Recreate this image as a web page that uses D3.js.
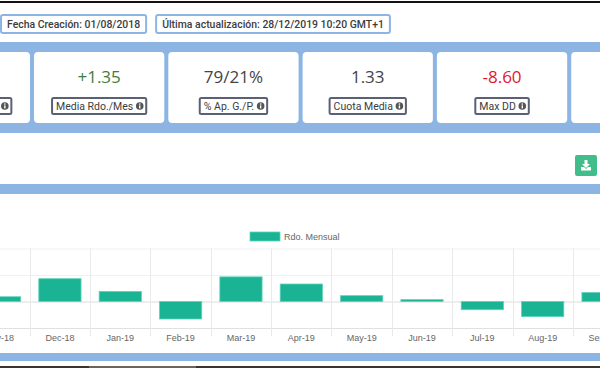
<!DOCTYPE html>
<html>
<head>
<meta charset="utf-8">
<script src="https://cdn.jsdelivr.net/npm/d3@7/dist/d3.min.js"></script>
<style>
	html, body { margin: 0; padding: 0; background: #fff; overflow: hidden; }
	svg { display: block; }
	.ui-text { font-family: Roboto, sans-serif; font-weight: 500; fill: #3c3c3c; }
	.axis text, .legend-label { font-family: 'Liberation Sans', Arial, sans-serif; font-size: 9px; fill: #666; }
</style>
</head>
<body>
<div id="chart"></div>
<script>
	// header badges
	const infoBadges = ['Fecha Creación: 01/08/2018', 'Última actualización: 28/12/2019 10:20 GMT+1'];

	// stat cards, first and last are cut off by the window
	const cardLabels = ['', 'Media Rdo./Mes', '% Ap. G./P.', 'Cuota Media', 'Max DD', ''];
	const cardValues = ['', '+1.35', '79/21%', '1.33', '-8.60', ''];
	const cardTones = ['neutral', 'up', 'neutral', 'neutral', 'down', 'neutral'];

	// monthly result chart
	const months = ['Nov-18', 'Dec-18', 'Jan-19', 'Feb-19', 'Mar-19', 'Apr-19', 'May-19', 'Jun-19', 'Jul-19', 'Aug-19', 'Sep-19'];
	const monthlyResult = [0.9, 4.3, 1.9, -3.3, 4.65, 3.3, 1.1, 0.35, -1.55, -2.85, 1.7];
	const yTicks = [-5, 0, 5, 10];
	const seriesName = 'Rdo. Mensual';

	const blue = '#8db5e3';
	const toneColors = { neutral: '#444', up: '#3f7d3f', down: '#e3182d' };

	const svg = d3.select('#chart').append('svg')
		.attr('width', 600)
		.attr('height', 368);

	// page frame
	svg.append('rect').attr('y', 1).attr('width', 600).attr('height', 2).style('fill', '#111');
	svg.append('rect').attr('y', 42).attr('width', 600).attr('height', 91).style('fill', blue);
	svg.append('rect').attr('y', 184).attr('width', 600).attr('height', 10).style('fill', blue);
	svg.append('rect').attr('y', 353).attr('width', 600).attr('height', 8).style('fill', blue);
	svg.append('rect').attr('y', 366).attr('width', 600).attr('height', 2).style('fill', '#3a342a');
	svg.append('rect').attr('x', 89).attr('y', 366).attr('width', 107).attr('height', 2).style('fill', '#6b655a');

	const drawInfoIcon = (g, cx, cy) => {
		g.append('circle').attr('cx', cx).attr('cy', cy).attr('r', 3.8).style('fill', '#555');
		g.append('rect').attr('x', cx - 0.7).attr('y', cy - 2.6).attr('width', 1.4).attr('height', 1.3).style('fill', '#fff');
		g.append('rect').attr('x', cx - 0.7).attr('y', cy - 0.6).attr('width', 1.4).attr('height', 3).style('fill', '#fff');
	};

	// header badges, sized from their text
	let badgeX = 0;
	infoBadges.forEach((label) => {
		const g = svg.append('g');
		const box = g.append('rect')
			.attr('y', 15)
			.attr('height', 18)
			.attr('rx', 2)
			.style('fill', '#fff')
			.style('stroke', blue)
			.style('stroke-width', 2);
		const text = g.append('text')
			.attr('class', 'ui-text')
			.attr('x', badgeX + 7)
			.attr('y', 28)
			.style('font-size', '10.45px')
			.text(label);
		const w = text.node().getComputedTextLength();
		box.attr('x', badgeX + 1).attr('width', w + 12);
		badgeX += w + 22;
	});

	// stat cards
	const cardX = d3.scaleBand()
		.domain(d3.range(cardLabels.length))
		.range([-102.3, 703.5])
		.paddingInner(0.03)
		.paddingOuter(0.015);

	const cards = svg.selectAll('.card')
		.data(cardLabels)
		.enter().append('g')
			.attr('class', 'card')
			.attr('transform', (d, i) => `translate(${cardX(i)}, 52)`);
	cards.append('rect')
		.attr('width', cardX.bandwidth())
		.attr('height', 71)
		.attr('rx', 4)
		.style('fill', '#fff');
	cards.append('text')
		.attr('class', 'ui-text')
		.attr('x', cardX.bandwidth() / 2)
		.attr('y', 30.5)
		.style('font-family', '"Open Sans", sans-serif')
		.style('font-weight', 400)
		.style('font-size', '17px')
		.style('text-anchor', 'middle')
		.style('fill', (d, i) => toneColors[cardTones[i]])
		.text((d, i) => cardValues[i]);

	cards.each(function (label, i) {
		if (i === cardLabels.length - 1) return;
		const g = d3.select(this);
		const box = g.append('rect')
			.attr('y', 46)
			.attr('height', 16)
			.attr('rx', 1.5)
			.style('fill', '#fff')
			.style('stroke', '#5c6074')
			.style('stroke-width', 2);
		const text = g.append('text')
			.attr('class', 'ui-text')
			.attr('y', 58)
			.style('font-size', '10.5px')
			.style('font-weight', 400)
			.text(label);
		const textWidth = label ? text.node().getComputedTextLength() : 76;
		const boxWidth = textWidth + 17;
		const left = (cardX.bandwidth() - boxWidth) / 2;
		box.attr('x', left).attr('width', boxWidth);
		text.attr('x', left + 4);
		drawInfoIcon(g, left + boxWidth - 6.5, 54);
	});

	// download button
	const download = svg.append('g').attr('transform', 'translate(575, 155)');
	download.append('rect').attr('width', 22).attr('height', 21).attr('rx', 2).style('fill', '#41bd8b');
	download.append('path')
		.attr('d', 'M9.5 5h3v4h2.5l-4 4-4-4h2.5z M6 12h3l2 2 2-2h3v3.5H6z')
		.style('fill', '#fff');

	// monthly chart
	const margin = { top: 248.5, left: 0 };
	const height = 79.5;

	const chart = svg.append('g')
		.attr('transform', `translate(${margin.left}, ${margin.top})`);

	const x = d3.scaleBand()
		.domain(months)
		.range([-30.6, 633.2])
		.paddingInner(0.3)
		.paddingOuter(0.15);
	const y = d3.scaleLinear()
		.domain([-5, 10])
		.range([height, 0]);

	const xAxis = d3.axisBottom(x).tickSize(0).tickPadding(7);
	const yAxis = d3.axisLeft(y).tickValues(yTicks).tickSize(-640).tickFormat('');

	const yGroup = chart.append('g').attr('class', 'y axis').call(yAxis);
	yGroup.select('.domain').remove();
	yGroup.selectAll('.tick line')
		.style('stroke', d => (d === 0 ? '#dcdcdc' : (d === -5 ? '#e0e0e0' : '#f1f1f1')));

	// vertical grid between months
	chart.selectAll('.v-grid')
		.data(months)
		.enter().append('line')
			.attr('class', 'v-grid')
			.attr('x1', d => Math.round(x(d) + x.bandwidth() + x.step() * 0.15) + 0.5)
			.attr('x2', d => Math.round(x(d) + x.bandwidth() + x.step() * 0.15) + 0.5)
			.attr('y1', 0)
			.attr('y2', height + 8)
			.style('stroke', '#e9e9e9');

	chart.selectAll('.bar')
		.data(months)
		.enter().append('rect')
			.attr('class', 'bar')
			.attr('x', d => x(d))
			.attr('y', (d, i) => y(Math.max(0, monthlyResult[i])))
			.attr('width', x.bandwidth())
			.attr('height', (d, i) => Math.abs(y(monthlyResult[i]) - y(0)))
			.style('fill', '#1ab394')
			.style('stroke', '#5fd3ba')
			.style('stroke-width', 0.8);

	const xGroup = chart.append('g')
		.attr('class', 'x axis')
		.attr('transform', `translate(0, ${height})`)
		.call(xAxis);
	xGroup.select('.domain').remove();

	// legend
	const legend = svg.append('g').attr('class', 'legend').attr('transform', 'translate(250, 232)');
	legend.append('rect')
		.attr('width', 30)
		.attr('height', 9)
		.style('fill', '#1ab394')
		.style('stroke', '#5fd3ba')
		.style('stroke-width', 0.8);
	legend.append('text')
		.attr('class', 'legend-label')
		.attr('x', 34)
		.attr('y', 7.5)
		.text(seriesName);
</script>
</body>
</html>
